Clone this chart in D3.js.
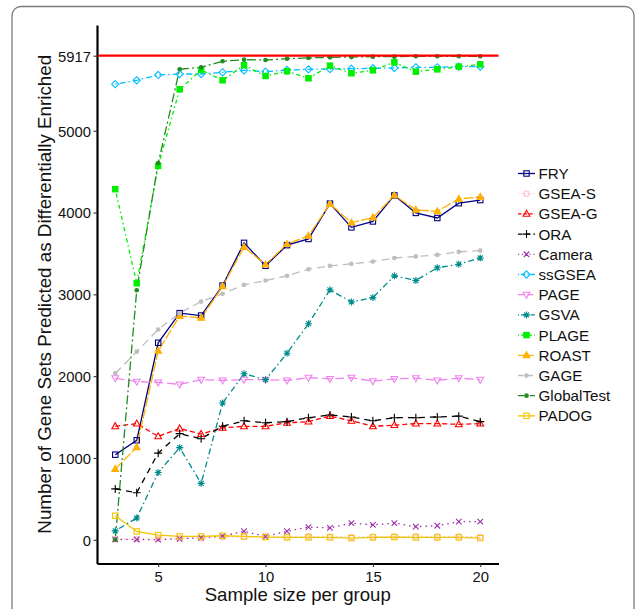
<!DOCTYPE html>
<html>
<head>
<meta charset="utf-8">
<script src="https://cdn.jsdelivr.net/npm/d3@7"></script>
<style>
  html, body { margin: 0; padding: 0; background: #fff; }
  svg { display: block; font-family: "Liberation Sans", Arial, Helvetica, sans-serif; }
</style>
</head>
<body>
<div id="chart"></div>
<script>
// sample sizes per group (x)
const sizes = [3, 4, 5, 6, 7, 8, 9, 10, 11, 12, 13, 14, 15, 16, 17, 18, 19, 20];

// number of gene sets predicted as DE, one array per method
const fry        = [1040, 1216, 2408, 2770, 2741, 3107, 3629, 3349, 3601, 3677, 4109, 3819, 3891, 4209, 3995, 3933, 4114, 4152];
const gseaS      = [5, 8, 12, 15, 20, 30, 35, 40, 38, 42, 40, 35, 38, 40, 42, 40, 40, 38];
const gseaG      = [1387, 1420, 1264, 1359, 1292, 1368, 1387, 1387, 1430, 1444, 1511, 1454, 1387, 1401, 1420, 1420, 1411, 1420];
const ora        = [622, 575, 1059, 1297, 1235, 1387, 1454, 1430, 1444, 1492, 1525, 1501, 1454, 1492, 1492, 1501, 1511, 1444];
const camera     = [4, 4, 2, 12, 24, 45, 104, 40, 104, 155, 145, 204, 182, 204, 160, 172, 222, 222];
const ssgsea     = [5568, 5616, 5681, 5693, 5693, 5714, 5738, 5722, 5742, 5750, 5754, 5758, 5762, 5766, 5775, 5775, 5783, 5783];
const page       = [1976, 1933, 1924, 1900, 1957, 1948, 1957, 1957, 1948, 1981, 1967, 1981, 1938, 1967, 1976, 1948, 1976, 1957];
const gsva       = [109, 266, 822, 1126, 689, 1672, 2029, 1957, 2280, 2641, 3055, 2907, 2960, 3226, 3169, 3325, 3368, 3444];
const plage      = [4285, 3135, 4570, 5506, 5742, 5616, 5800, 5669, 5726, 5641, 5795, 5702, 5738, 5836, 5722, 5750, 5783, 5811];
const roast      = [865, 1131, 2309, 2736, 2713, 3097, 3577, 3363, 3615, 3715, 4105, 3876, 3938, 4209, 4033, 4014, 4166, 4190];
const gage       = [2033, 2299, 2570, 2770, 2912, 3007, 3116, 3169, 3226, 3306, 3349, 3373, 3401, 3444, 3463, 3482, 3520, 3534];
const globalTest = [0, 3050, 4603, 5751, 5775, 5849, 5868, 5864, 5880, 5890, 5897, 5900, 5905, 5905, 5910, 5910, 5910, 5910];
const padog      = [294, 102, 57, 41, 41, 49, 41, 33, 29, 29, 29, 20, 29, 33, 29, 29, 29, 20];

const totalSets = 5917;
const xTicks = [5, 10, 15, 20];
const yTicks = [0, 1000, 2000, 3000, 4000, 5000, 5917];

const methods = [
  { name: 'FRY',        values: fry,        color: '#000080', dash: null,          shape: 'square',   fill: false },
  { name: 'GSEA-S',     values: gseaS,      color: '#FFC0CB', dash: '1.5,3',       shape: 'circle',   fill: false },
  { name: 'GSEA-G',     values: gseaG,      color: '#FF0000', dash: '5,3',         shape: 'triangle', fill: false },
  { name: 'ORA',        values: ora,        color: '#000000', dash: '6,5',         shape: 'plus',     fill: false },
  { name: 'Camera',     values: camera,     color: '#9B30A8', dash: '1.5,4',       shape: 'cross',    fill: false },
  { name: 'ssGSEA',     values: ssgsea,     color: '#00BFFF', dash: '1.5,3,6,3',   shape: 'diamond',  fill: false },
  { name: 'PAGE',       values: page,       color: '#EE82EE', dash: '9,4',         shape: 'tridown',  fill: false },
  { name: 'GSVA',       values: gsva,       color: '#008B8B', dash: '1.5,3,6,3',   shape: 'star',     fill: false },
  { name: 'PLAGE',      values: plage,      color: '#00EE00', dash: '1.5,3,4,3',   shape: 'square',   fill: true  },
  { name: 'ROAST',      values: roast,      color: '#FFB000', dash: '10,2',        shape: 'triangle', fill: true  },
  { name: 'GAGE',       values: gage,       color: '#BEBEBE', dash: '8,5',         shape: 'dot',      fill: true  },
  { name: 'GlobalTest', values: globalTest, color: '#228B22', dash: '9,3,2,3',     shape: 'dot',      fill: true  },
  { name: 'PADOG',      values: padog,      color: '#F2C500', dash: null,          shape: 'square',   fill: false }
];

const W = 637, H = 609;
const margin = { left: 97, right: W - 498.5, top: 25, bottom: H - 563.5 };

const svg = d3.select('#chart').append('svg')
    .attr('width', W)
    .attr('height', H);

// outer rounded frame (runs off the bottom)
svg.append('rect')
    .attr('x', 12).attr('y', 6.5)
    .attr('width', 622).attr('height', 640)
    .attr('rx', 9)
    .attr('fill', 'none')
    .attr('stroke', '#7a7a7a')
    .attr('stroke-width', 1.3);

const x = d3.scaleLinear()
    .domain([3 - 0.85, 20 + 0.85])
    .range([margin.left, W - margin.right]);

const y = d3.scaleLinear()
    .domain([-290, 6292])
    .range([H - margin.bottom, margin.top]);

// axes
const xAxis = svg.append('g')
    .attr('transform', `translate(0,${H - margin.bottom})`)
    .call(d3.axisBottom(x).tickValues(xTicks).tickSize(3.5).tickPadding(3).tickSizeOuter(0));
const yAxis = svg.append('g')
    .attr('transform', `translate(${margin.left},0)`)
    .call(d3.axisLeft(y).tickValues(yTicks).tickFormat(d3.format('d')).tickSize(3.5).tickPadding(2.5).tickSizeOuter(0));

[xAxis, yAxis].forEach(g => {
  g.select('.domain').attr('stroke', '#000').attr('stroke-width', 2.2);
  g.selectAll('.tick line').attr('stroke', '#333').attr('stroke-width', 1.1);
  g.selectAll('.tick text')
    .attr('fill', '#111')
    .style('font-size', '14.8px')
    .style('font-family', '"Liberation Sans", Arial, sans-serif');
});
yAxis.selectAll('.tick text').attr('dy', '0.36em');
xAxis.selectAll('.tick text').attr('dy', '0.78em');

// axis titles
svg.append('text')
    .attr('x', (margin.left + W - margin.right) / 2)
    .attr('y', 601)
    .attr('text-anchor', 'middle')
    .style('font-size', '18.6px')
    .attr('fill', '#111')
    .text('Sample size per group');

svg.append('text')
    .attr('transform', `translate(51,${(margin.top + H - margin.bottom) / 2}) rotate(-90)`)
    .attr('text-anchor', 'middle')
    .style('font-size', '18.8px')
    .attr('fill', '#111')
    .text('Number of Gene Sets Predicted as Differentially Enriched');

// lines
const line = d3.line()
    .x((d, i) => x(sizes[i]))
    .y(d => y(d));

const plot = svg.append('g');

plot.selectAll('path.series')
  .data(methods)
  .join('path')
    .attr('class', 'series')
    .attr('d', d => line(d.values))
    .attr('fill', 'none')
    .attr('stroke', d => d.color)
    .attr('stroke-width', 1.3)
    .attr('stroke-dasharray', d => d.dash);

// total gene sets reference line
svg.append('line')
    .attr('x1', margin.left + 1).attr('x2', W - margin.right)
    .attr('y1', y(totalSets)).attr('y2', y(totalSets))
    .attr('stroke', '#FF0000')
    .attr('stroke-width', 2.2);

// markers
function drawMarker(g, m, cx, cy) {
  const s = 2.7;
  const stroke = m.color;
  const fill = m.fill ? m.color : 'none';
  let el;
  switch (m.shape) {
    case 'square':
      el = g.append('rect').attr('x', cx - s).attr('y', cy - s)
        .attr('width', 2 * s).attr('height', 2 * s);
      break;
    case 'circle':
      el = g.append('circle').attr('cx', cx).attr('cy', cy).attr('r', s);
      break;
    case 'dot':
      el = g.append('circle').attr('cx', cx).attr('cy', cy).attr('r', 1.8);
      break;
    case 'triangle':
      el = g.append('path').attr('d', `M${cx},${cy - 3.6}L${cx + 3.4},${cy + 2.4}L${cx - 3.4},${cy + 2.4}Z`);
      break;
    case 'tridown':
      el = g.append('path').attr('d', `M${cx},${cy + 3.6}L${cx + 3.4},${cy - 2.4}L${cx - 3.4},${cy - 2.4}Z`);
      break;
    case 'diamond':
      el = g.append('path').attr('d', `M${cx},${cy - 3.6}L${cx + 3.6},${cy}L${cx},${cy + 3.6}L${cx - 3.6},${cy}Z`);
      break;
    case 'plus':
      el = g.append('path').attr('d', `M${cx - 4},${cy}H${cx + 4}M${cx},${cy - 4}V${cy + 4}`);
      break;
    case 'cross':
      el = g.append('path').attr('d', `M${cx - 2.8},${cy - 2.8}L${cx + 2.8},${cy + 2.8}M${cx - 2.8},${cy + 2.8}L${cx + 2.8},${cy - 2.8}`);
      break;
    case 'star':
      el = g.append('path').attr('d',
        `M${cx - 3.5},${cy}H${cx + 3.5}M${cx},${cy - 3.5}V${cy + 3.5}` +
        `M${cx - 2.5},${cy - 2.5}L${cx + 2.5},${cy + 2.5}M${cx - 2.5},${cy + 2.5}L${cx + 2.5},${cy - 2.5}`);
      break;
  }
  el.attr('fill', fill).attr('stroke', stroke).attr('stroke-width', 1.1);
}

methods.forEach(m => {
  const g = plot.append('g').attr('class', 'pts');
  m.values.forEach((v, i) => drawMarker(g, m, x(sizes[i]), y(v)));
});

// legend
const legend = svg.append('g').attr('transform', 'translate(518,173.5)');
methods.forEach((m, i) => {
  const row = legend.append('g').attr('transform', `translate(0,${i * 20.2})`);
  row.append('line')
    .attr('x1', 0).attr('x2', 17).attr('y1', 0).attr('y2', 0)
    .attr('stroke', m.color)
    .attr('stroke-width', 1.3)
    .attr('stroke-dasharray', m.dash ? m.dash.split(',').map(d => +d * 0.7).join(',') : null);
  drawMarker(row, m, 8.5, 0);
  row.append('text')
    .attr('x', 20.5).attr('y', 0).attr('dy', '0.36em')
    .style('font-size', '15.2px')
    .attr('fill', '#111')
    .text(m.name);
});
</script>
</body>
</html>
